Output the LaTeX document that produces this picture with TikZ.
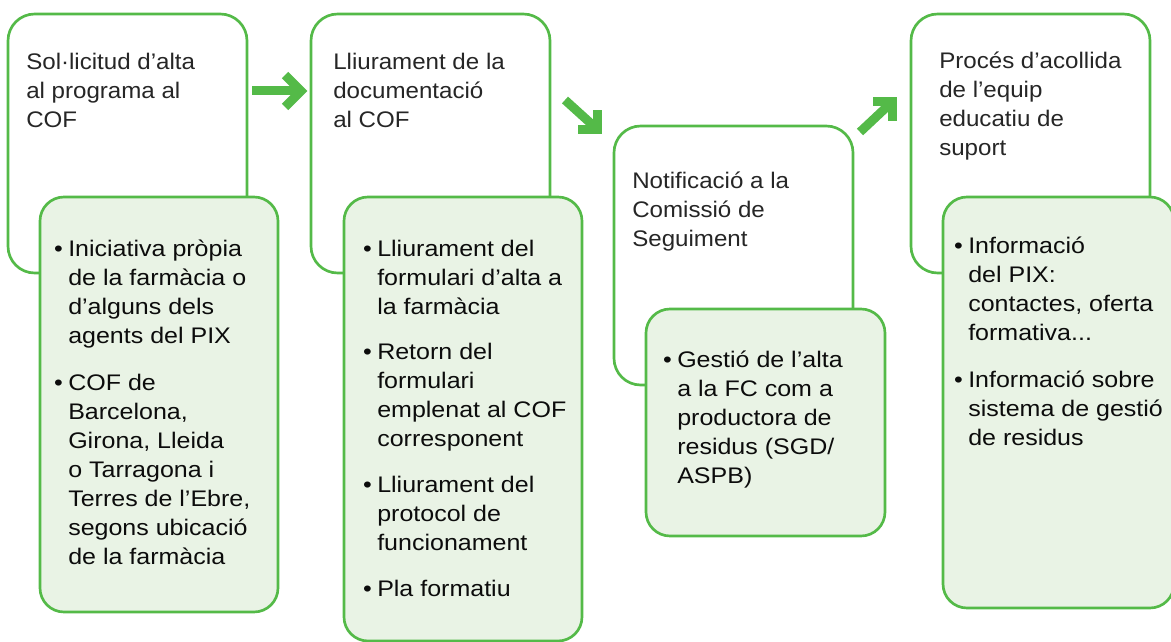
\documentclass[tikz,border=0pt]{standalone}
\usepackage{fontspec}
\setmainfont{Liberation Sans}[FakeStretch=1.07]
\newfontfamily\bulfont{Liberation Sans}[FakeStretch=1.11]
\usetikzlibrary{fit,calc}
\definecolor{gline}{RGB}{84,186,72}
\definecolor{gfill}{RGB}{233,243,229}
\definecolor{ttl}{RGB}{38,38,38}
\definecolor{btxt}{RGB}{12,12,12}
\newcommand\bul{\llap{•\hspace{4pt}}}
\begin{document}
\begin{tikzpicture}[x=0.75pt,y=-0.75pt,
 wbox/.style={draw=gline,line width=2pt,fill=white,rounded corners=20pt,inner sep=0pt},
 gbox/.style={draw=gline,line width=2pt,fill=gfill,rounded corners=18pt,inner sep=0pt},
 ttext/.style={anchor=north west,inner sep=0pt,align=left,text=ttl,font=\fontsize{16.9}{21.75}\selectfont},
 btext/.style={anchor=north west,inner sep=0pt,align=left,text=btxt,font=\bulfont\fontsize{16.9}{21.75}\selectfont},
 arr/.style={draw=gline,line width=6.75pt,line cap=butt,line join=miter}]
\useasboundingbox (0,0) rectangle (1171,642);
\clip (0,0) rectangle (1171,642);
% column 1
\node[wbox, fit={(8,14)(247,273)}] (b1) {};
\node[gbox, fit={(40,197)(278,612)}] (g1) {};
\node[ttext] (t1) at (26,48.7) {\strut Sol·licitud d’alta\\al programa al\\COF};
\node[btext] (l1) at (68,235.7) {\strut\bul Iniciativa pròpia\\de la farmàcia o\\d’alguns dels\\agents del PIX\\[13.5pt]
\bul COF de\\Barcelona,\\Girona, Lleida\\o Tarragona i\\Terres de l’Ebre,\\segons ubicació\\de la farmàcia};
% column 2
\node[wbox, fit={(311,14)(550,273)}] (b2) {};
\node[gbox, fit={(344,197)(582,641)}] (g2) {};
\node[ttext] (t2) at (333,48.7) {\strut Lliurament de la\\documentació\\al COF};
\node[btext] (l2) at (377,235.7) {\strut\bul Lliurament del\\formulari d’alta a\\la farmàcia\\[12.5pt]
\bul Retorn del\\formulari\\emplenat al COF\\corresponent\\[12.5pt]
\bul Lliurament del\\protocol de\\funcionament\\[12.5pt]
\bul Pla formatiu};
% column 3
\node[wbox, fit={(614,126)(853,385)}] (b3) {};
\node[gbox, fit={(646,309)(885,536)}] (g3) {};
\node[ttext] (t3) at (632,167.7) {\strut Notificació a la\\Comissió de\\Seguiment};
\node[btext] (l3) at (677,346.7) {\strut\bul Gestió de l’alta\\a la FC com a\\productora de\\residus (SGD/\\ASPB)};
% column 4
\node[wbox, fit={(911,14)(1150,273)}] (b4) {};
\node[gbox, fit={(943,197)(1174,608)}] (g4) {};
\node[ttext] (t4) at (939,47.7) {\strut Procés d’acollida\\de l’equip\\educatiu de\\suport};
\node[btext] (l4) at (968,232.7) {\strut\bul Informació\\del PIX:\\contactes, oferta\\formativa...\\[13.5pt]
\bul Informació sobre\\sistema de gestió\\de residus};
% arrows
\coordinate (a1s) at (252,91);
\coordinate (a1e) at (301,91);
\coordinate (a2s) at (565,100);
\coordinate (a2e) at (597,129);
\coordinate (a3s) at (860,132);
\coordinate (a3e) at (892,102);
\draw[arr] (a1s) -- (a1e);
\draw[arr] ($(a1e)+(-16,-16)$) -- (a1e) -- ($(a1e)+(-16,16)$);
\draw[arr] (a2s) -- (a2e);
\draw[arr] ($(a2e)+(-19,0)$) -- (a2e) -- ($(a2e)+(0,-19)$);
\draw[arr] (a3s) -- (a3e);
\draw[arr] ($(a3e)+(-19,0)$) -- (a3e) -- ($(a3e)+(0,19)$);
\end{tikzpicture}
\end{document}
